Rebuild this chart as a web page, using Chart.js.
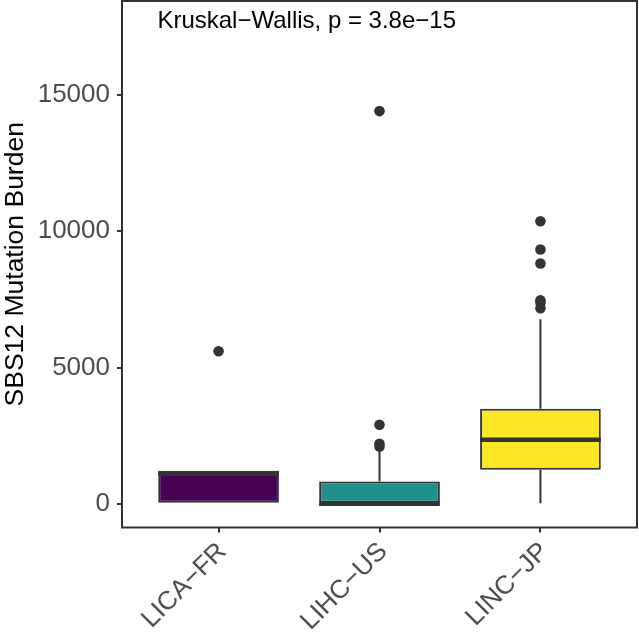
<!DOCTYPE html>
<html>
<head>
<meta charset="utf-8">
<script src="https://cdn.jsdelivr.net/npm/chart.js@4/dist/chart.umd.min.js"></script>
<style>
  html, body { margin: 0; padding: 0; background: #ffffff; }
  #wrap { width: 639px; height: 634px; }
</style>
</head>
<body>
<div id="wrap"><canvas id="chart" width="639" height="634"></canvas></div>
<script>
// Cohorts and their box-plot summaries (SBS12 mutation burden)
const categories = ['LICA\u2212FR', 'LIHC\u2212US', 'LINC\u2212JP'];
const whiskerLow  = [0, 0, 20];
const q1          = [0, 0, 1249];
const medians     = [1100, 0, 2351];
const q3          = [1210, 819, 3490];
const whiskerHigh = [1210, 2000, 6771];
const outliersLICA = [5600];
const outliersLIHC = [2100, 2200, 2900, 14412];
const outliersLINC = [7180, 7380, 7470, 8817, 9331, 10371];
const yTicks = [0, 5000, 10000, 15000];
const testLabel = 'Kruskal\u2212Wallis, p = 3.8e\u221215';

const fillColors = ['#440154', '#21908C', '#FDE725'];
const ink = '#333333';
const FONT = "'Liberation Sans', Arial, Helvetica, sans-serif";

const outlierPoints = []
  .concat(outliersLICA.map(v => ({ x: 1, y: v })))
  .concat(outliersLIHC.map(v => ({ x: 2, y: v })))
  .concat(outliersLINC.map(v => ({ x: 3, y: v })));

const boxPlugin = {
  id: 'boxParts',
  // whiskers go under the boxes
  beforeDatasetsDraw(chart) {
    const { ctx } = chart;
    const ys = chart.scales.y;
    const meta = chart.getDatasetMeta(0);
    ctx.save();
    ctx.strokeStyle = ink;
    ctx.lineWidth = 2;
    meta.data.forEach((bar, i) => {
      const x = bar.x;
      ctx.beginPath();
      ctx.moveTo(x, ys.getPixelForValue(q3[i]));
      ctx.lineTo(x, ys.getPixelForValue(whiskerHigh[i]));
      ctx.moveTo(x, ys.getPixelForValue(q1[i]));
      ctx.lineTo(x, ys.getPixelForValue(whiskerLow[i]));
      ctx.stroke();
    });
    ctx.restore();
  },
  // median bars on top of the boxes
  afterDatasetsDraw(chart) {
    const { ctx } = chart;
    const ys = chart.scales.y;
    const meta = chart.getDatasetMeta(0);
    ctx.save();
    ctx.strokeStyle = ink;
    ctx.lineWidth = 4.5;
    meta.data.forEach((bar, i) => {
      const y = ys.getPixelForValue(medians[i]);
      ctx.beginPath();
      ctx.moveTo(bar.x - bar.width / 2, y);
      ctx.lineTo(bar.x + bar.width / 2, y);
      ctx.stroke();
    });
    ctx.restore();
  },
  afterDraw(chart) {
    const { ctx, chartArea } = chart;
    ctx.save();
    // panel frame
    ctx.strokeStyle = ink;
    ctx.lineWidth = 2;
    ctx.strokeRect(chartArea.left, chartArea.top, chartArea.right - chartArea.left, chartArea.bottom - chartArea.top);
    // test annotation
    ctx.fillStyle = '#000000';
    ctx.font = '24px ' + FONT;
    ctx.textAlign = 'left';
    ctx.textBaseline = 'middle';
    ctx.fillText(testLabel, chart.scales.x.getPixelForValue(0.62), chart.scales.y.getPixelForValue(17700));
    ctx.restore();
  }
};

new Chart(document.getElementById('chart'), {
  type: 'bar',
  data: {
    datasets: [
      {
        type: 'bar',
        data: categories.map((c, i) => ({ x: i + 1, y: [q1[i], q3[i]] })),
        backgroundColor: fillColors,
        borderColor: ink,
        borderWidth: 2,
        borderSkipped: false,
        barPercentage: 0.75,
        categoryPercentage: 1.0
      },
      {
        type: 'scatter',
        data: outlierPoints,
        pointRadius: 5.3,
        pointBackgroundColor: ink,
        pointBorderWidth: 0
      }
    ]
  },
  options: {
    responsive: false,
    animation: false,
    events: [],
    layout: { autoPadding: false, padding: { top: 1, right: 2, left: 0, bottom: 0 } },
    plugins: { legend: { display: false }, tooltip: { enabled: false } },
    scales: {
      x: {
        type: 'linear',
        min: 0.4,
        max: 3.6,
        offset: false,
        afterBuildTicks: s => { s.ticks = categories.map((c, i) => ({ value: i + 1 })); },
        afterFit: s => { s.height = 106.5; s.paddingLeft = 0; s.paddingRight = 0; },
        grid: { offset: false, drawOnChartArea: false, drawTicks: true, tickLength: 5, color: ink, lineWidth: 2 },
        border: { display: false },
        ticks: {
          callback: v => categories[v - 1],
          maxRotation: 45,
          minRotation: 45,
          autoSkip: false,
          padding: 4,
          labelOffset: 4,
          color: '#4D4D4D',
          font: { family: FONT, size: 26 }
        }
      },
      y: {
        type: 'linear',
        min: -871,
        max: 18453,
        afterBuildTicks: s => { s.ticks = yTicks.map(v => ({ value: v })); },
        afterFit: s => { s.width = 122; s.paddingTop = 0; s.paddingBottom = 0; },
        grid: { offset: false, drawOnChartArea: false, drawTicks: true, tickLength: 5, color: ink, lineWidth: 2 },
        border: { display: false },
        ticks: {
          callback: v => String(v),
          padding: 7,
          color: '#4D4D4D',
          font: { family: FONT, size: 26 }
        },
        title: {
          display: true,
          text: 'SBS12 Mutation Burden',
          color: '#000000',
          padding: { top: 0, bottom: 0 },
          font: { family: FONT, size: 26.5 }
        }
      }
    }
  },
  plugins: [boxPlugin]
});
</script>
</body>
</html>
